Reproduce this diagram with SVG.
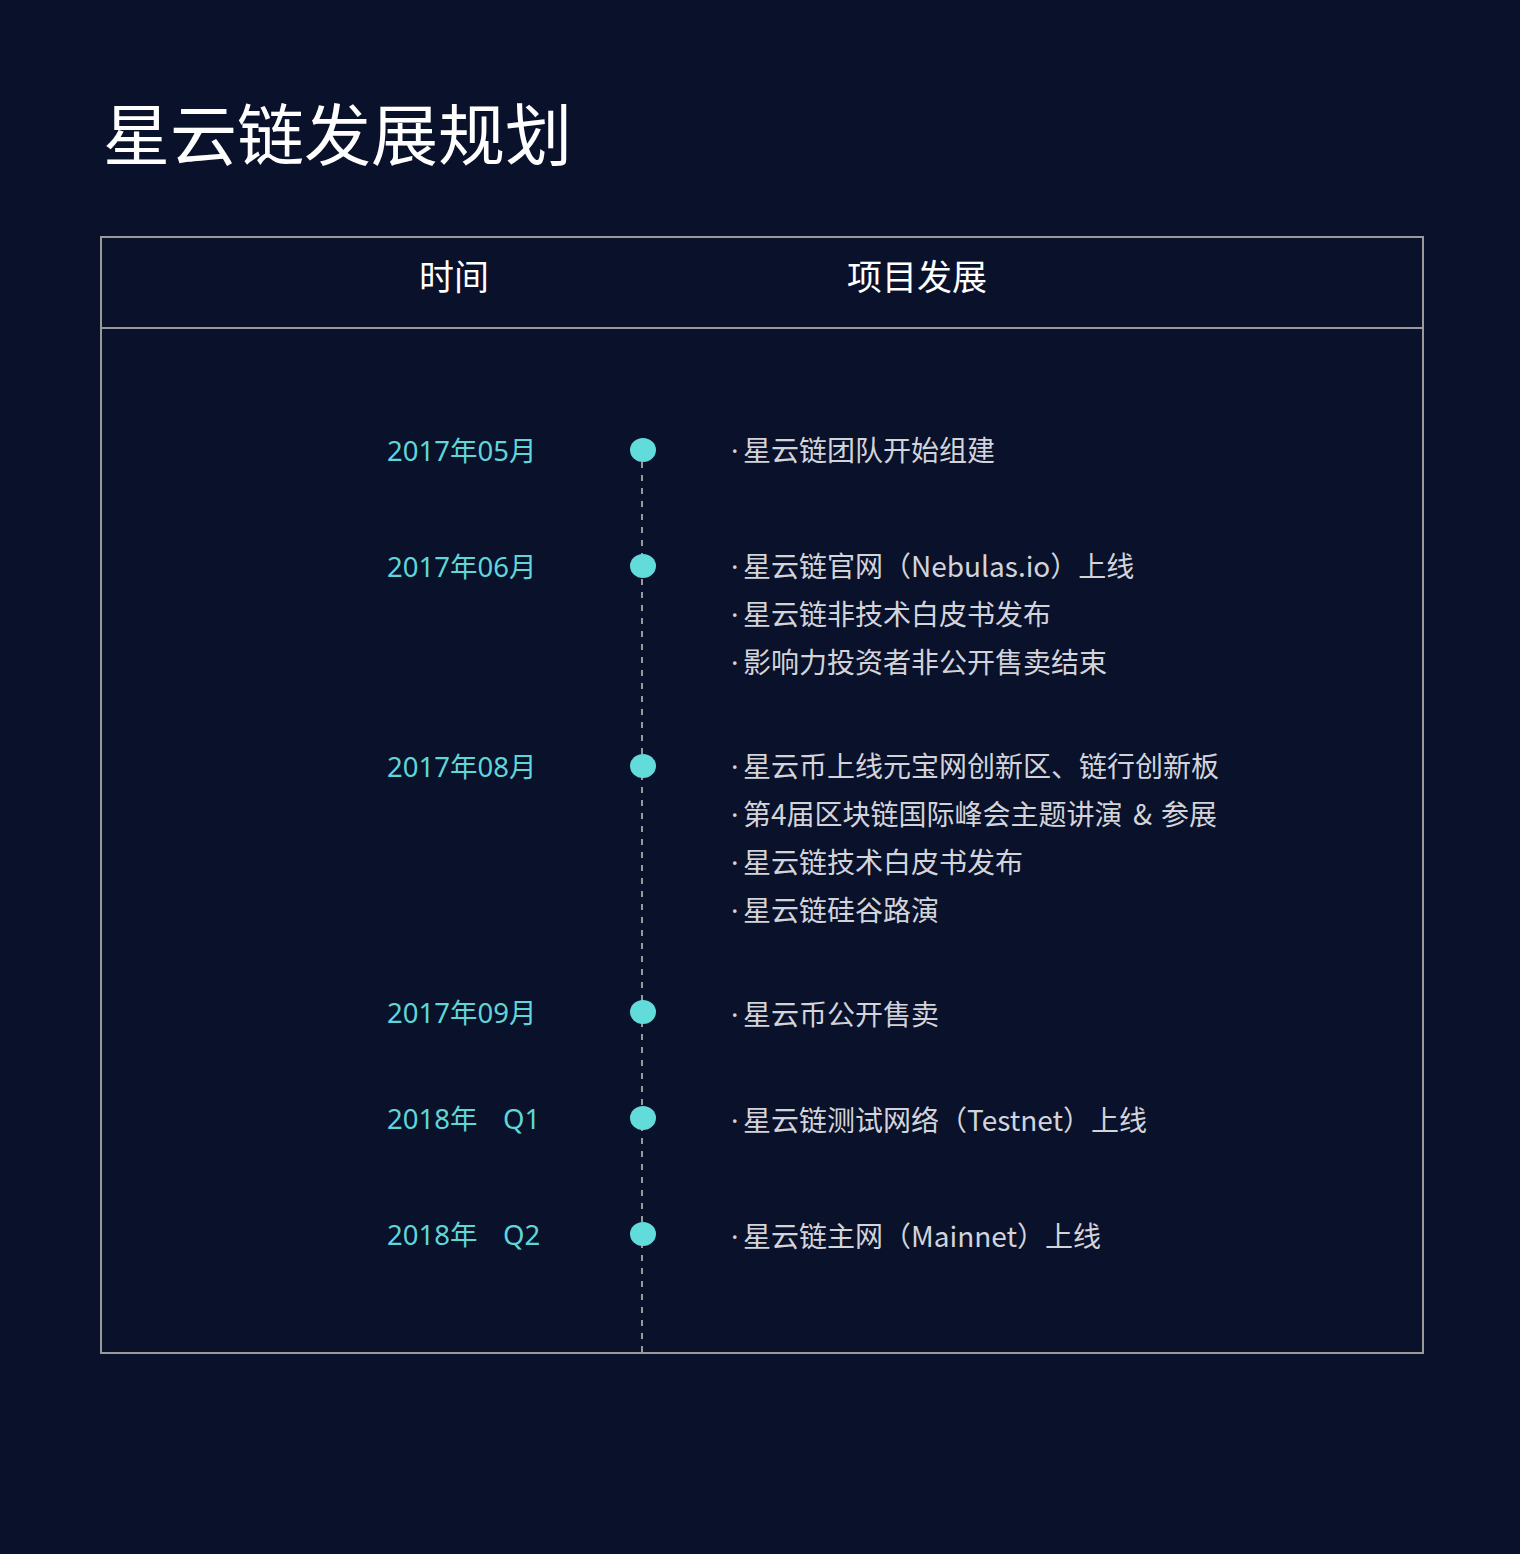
<svg xmlns="http://www.w3.org/2000/svg" width="1520" height="1554" viewBox="0 0 1520 1554">
<style>
.title{font-family:"Noto Sans CJK SC","Noto Sans",sans-serif;font-size:67px;fill:#ffffff}
.hd{font-family:"Noto Sans CJK SC","Noto Sans",sans-serif;font-size:35px;fill:#ffffff;text-anchor:middle}
.date{font-family:"Noto Sans","Noto Sans CJK SC",sans-serif;font-size:27.5px;fill:#5fd6d8}
.item{font-family:"Noto Sans CJK SC","Noto Sans",sans-serif;font-size:28px;fill:#d2d4da}
.bul{font-family:"Noto Sans",sans-serif;font-size:28px;fill:#d2d4da}
.dot{fill:#62dbdb}
.frame{fill:none;stroke:#9a9a9a;stroke-width:2}
.dash{stroke:#9a9a9a;stroke-width:2;stroke-dasharray:6 7}
</style>
<rect width="1520" height="1554" fill="#0a112b"/>
<text class="title" x="103" y="160">星云链发展规划</text>
<g id="table">
<rect class="frame" x="101" y="237" width="1322" height="1116"/>
<line class="frame" x1="101" y1="328" x2="1423" y2="328"/>
<text class="hd" x="454" y="290">时间</text>
<text class="hd" x="917" y="290">项目发展</text>
</g>
<g id="connectors">
<line class="dash" x1="642" y1="462" x2="642" y2="1352"/>
</g>
<g id="n1">
<ellipse class="dot" cx="643" cy="450" rx="13" ry="12"/>
<text class="date" x="387" y="461">2017年05月</text>
<text class="bul" x="731" y="461">·</text><text class="item" x="743" y="461">星云链团队开始组建</text>
</g>
<g id="n2">
<ellipse class="dot" cx="643" cy="566" rx="13" ry="12"/>
<text class="date" x="387" y="577">2017年06月</text>
<text class="bul" x="731" y="577">·</text><text class="item" x="743" y="577">星云链官网（Nebulas.io）上线</text>
<text class="bul" x="731" y="625">·</text><text class="item" x="743" y="625">星云链非技术白皮书发布</text>
<text class="bul" x="731" y="673">·</text><text class="item" x="743" y="673">影响力投资者非公开售卖结束</text>
</g>
<g id="n3">
<ellipse class="dot" cx="643" cy="766" rx="13" ry="12"/>
<text class="date" x="387" y="777">2017年08月</text>
<text class="bul" x="731" y="777">·</text><text class="item" x="743" y="777">星云币上线元宝网创新区、链行创新板</text>
<text class="bul" x="731" y="825">·</text><text class="item" x="743" y="825">第4届区块链国际峰会主题讲演<tspan x="1133">&amp;</tspan><tspan x="1161">参展</tspan></text>
<text class="bul" x="731" y="873">·</text><text class="item" x="743" y="873">星云链技术白皮书发布</text>
<text class="bul" x="731" y="921">·</text><text class="item" x="743" y="921">星云链硅谷路演</text>
</g>
<g id="n4">
<ellipse class="dot" cx="643" cy="1012" rx="13" ry="12"/>
<text class="date" x="387" y="1023">2017年09月</text>
<text class="bul" x="731" y="1025">·</text><text class="item" x="743" y="1025">星云币公开售卖</text>
</g>
<g id="n5">
<ellipse class="dot" cx="643" cy="1118" rx="13" ry="12"/>
<text class="date" x="387" y="1129">2018年</text><text class="date" x="503" y="1129">Q1</text>
<text class="bul" x="731" y="1131">·</text><text class="item" x="743" y="1131">星云链测试网络（Testnet）上线</text>
</g>
<g id="n6">
<ellipse class="dot" cx="643" cy="1234" rx="13" ry="12"/>
<text class="date" x="387" y="1245">2018年</text><text class="date" x="503" y="1245">Q2</text>
<text class="bul" x="731" y="1247">·</text><text class="item" x="743" y="1247">星云链主网（Mainnet）上线</text>
</g>
</svg>
